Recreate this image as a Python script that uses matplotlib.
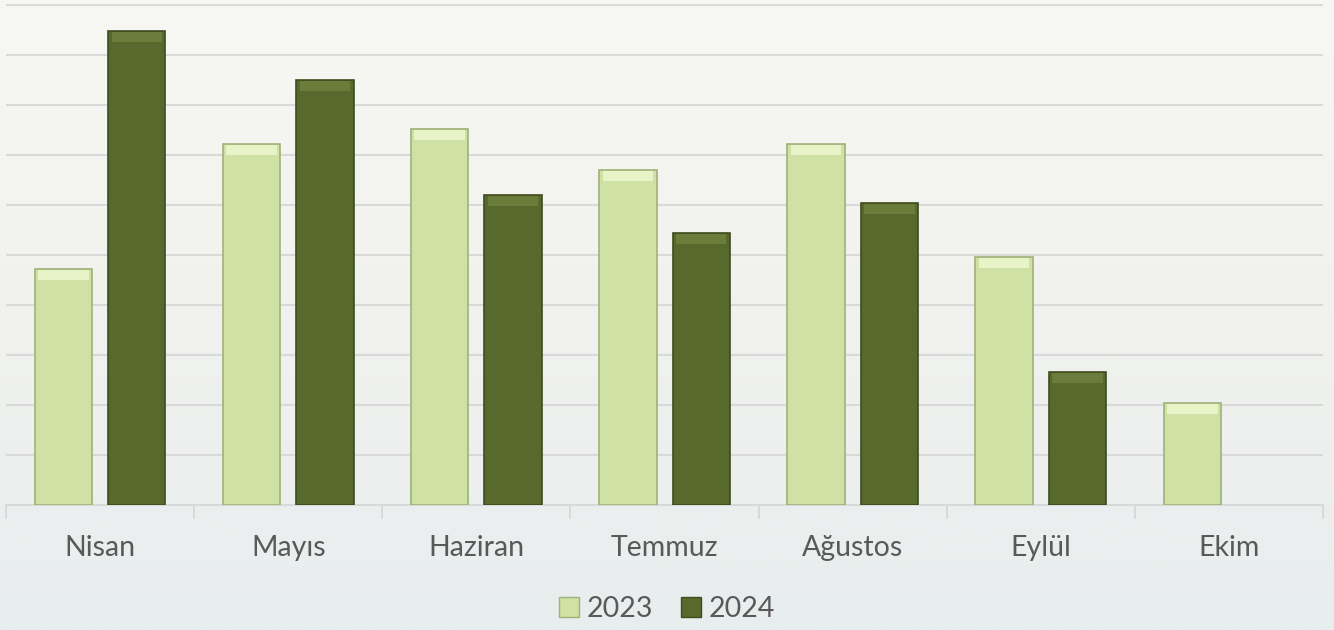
import numpy as np
import matplotlib.pyplot as plt
from matplotlib.patches import Patch

months = ["Nisan", "Mayıs", "Haziran", "Temmuz", "Ağustos", "Eylül", "Ekim"]
v2023 = [4.73, 7.22, 7.53, 6.71, 7.22, 4.97, 2.05]
v2024 = [9.47, 8.50, 6.20, 5.44, 6.04, 2.67, np.nan]
series = ["2023", "2024"]

light = "#CFE1A4"
dark = "#58692D"
text_col = "#595959"
grid_col = "#D9D9D9"

plt.rcParams['font.family'] = ['Lato', 'DejaVu Sans']

fig = plt.figure(figsize=(13.34, 6.3), dpi=100)
# soft background wash
bg = fig.add_axes([0, 0, 1, 1], zorder=-10)
grad = np.linspace(0, 1, 256).reshape(-1, 1)
bg.imshow(grad, aspect='auto', extent=[0, 1, 0, 1],
          cmap=plt.matplotlib.colors.LinearSegmentedColormap.from_list(
              "bgc", ["#F7F7F3", "#F1F2EE", "#E8EDEE"]), origin='upper')
bg.axis('off')

ax = fig.add_axes([0.0045, 0.198, 0.9873, 0.7957])
ax.patch.set_alpha(0)

x = np.arange(len(months))
w = 0.305
off = 0.195
ax.bar(x - off, v2023, w, color=light, edgecolor="#9FB277", linewidth=1.2, zorder=3)
ax.bar(x + off, v2024, w, color=dark, edgecolor="#3E4C1E", linewidth=1.2, zorder=3)

# bevel highlight on bar tops
for xi, v in zip(x - off, v2023):
    ax.bar(xi, 0.2, w * 0.88, bottom=v - 0.22, color="#E8F4C8", linewidth=0, zorder=4)
for xi, v in zip(x + off, v2024):
    if not np.isnan(v):
        ax.bar(xi, 0.2, w * 0.88, bottom=v - 0.22, color="#6B7C3B", linewidth=0, zorder=4)

ax.set_xlim(-0.5, len(months) - 0.5)
ax.set_ylim(0, 10.02)
ax.set_yticks(np.arange(1, 11))
ax.yaxis.grid(True, color=grid_col, linewidth=1.5, zorder=0)
ax.tick_params(axis='y', left=False, labelleft=False)

ax.set_xticks(x)
ax.set_xticklabels(months, fontsize=20.5, color=text_col)
ax.set_xticks(np.arange(-0.5, len(months)), minor=True)
ax.tick_params(axis='x', which='major', length=0, pad=21.5)
ax.tick_params(axis='x', which='minor', length=10, width=1.5, color=grid_col, direction='out')

for s in ['top', 'right', 'left']:
    ax.spines[s].set_visible(False)
ax.spines['bottom'].set_color(grid_col)
ax.spines['bottom'].set_linewidth(1.5)

handles = [Patch(facecolor=light, edgecolor="#9FB277"), Patch(facecolor=dark, edgecolor="#3E4C1E")]
fig.legend(handles, series, loc='center', bbox_to_anchor=(0.5, 0.033), ncol=2, frameon=False,
           fontsize=20.5, labelcolor=text_col, handlelength=0.7, handleheight=0.7,
           handletextpad=0.25, columnspacing=1.0)

plt.savefig("out.png", dpi=100)
